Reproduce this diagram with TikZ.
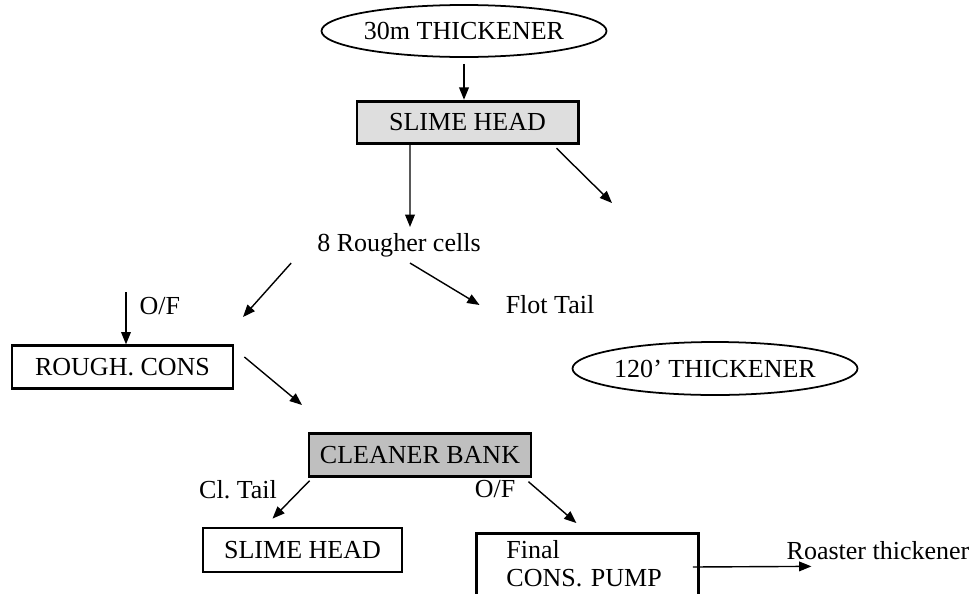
\documentclass[tikz,border=0pt]{standalone}
\usepackage{fontspec}
\setmainfont{Liberation Serif}
\usetikzlibrary{shapes.geometric,arrows.meta,positioning}
\frenchspacing

\begin{document}
\begin{tikzpicture}[
    font=\fontsize{14.8pt}{16pt}\selectfont,
    box/.style={rectangle, draw=black, line width=1.6pt, minimum width=4.42cm, minimum height=0.85cm, align=center},
    tank/.style={ellipse, draw=black, line width=1pt, minimum width=5.7cm, minimum height=1.04cm, inner sep=0pt},
    arrow/.style={-{Triangle[length=7pt,width=5.5pt]}, line width=0.8pt},
]
\useasboundingbox (0,0) rectangle (19.6,-11.86);

% 30m thickener to slime head
\node[tank] (thick30) at (9.28,-0.62) {30m THICKENER};
\node[box, fill=black!13, line width=1.7pt] (slime) at (9.35,-2.45) {SLIME HEAD};
\draw[arrow, shorten <=0.12cm] (thick30.south) -- (thick30.south |- slime.north);

% Rougher cells
\node (rough) at (7.98,-4.9) {8 Rougher cells};
\draw[arrow] ([xshift=-1.15cm]slime.south) -- ([xshift=0.22cm]rough.north);

% Slime head overflow
\coordinate (slimeout) at (12.24,-4.06);
\draw[arrow] ([shift={(-0.46,-0.06)}]slime.south east) -- (slimeout);

% Rougher products
\node (flot) at (11.0,-6.1) {Flot Tail};
\coordinate (roughout) at (4.86,-6.34);
\draw[arrow] ([xshift=-0.4cm]rough.south west) -- (roughout);
\draw[arrow] ([xshift=0.22cm]rough.south) -- ([xshift=-0.4cm]flot.west);

% Rougher concentrate
\node[box] (rcons) at (2.45,-7.34) {ROUGH. CONS};
\coordinate (offeed) at (2.52,-5.84);
\draw[arrow] (offeed) -- (offeed |- rcons.north) node[pos=0.27, right=4pt] {O/F};
\coordinate (rconsout) at (6.04,-8.1);
\draw[arrow] ([shift={(0.2,0.2)}]rcons.east) -- (rconsout);

% 120' thickener
\node[tank, minimum width=5.68cm, minimum height=1.06cm] (thick120) at (14.3,-7.37) {120’ THICKENER};

% Cleaner bank
\node[box, fill=black!25, minimum width=4.44cm] (cleaner) at (8.4,-9.1) {CLEANER BANK};
\node[box, minimum width=3.98cm, minimum height=0.88cm] (slimeb) at (6.05,-11.0) {SLIME HEAD};
\draw[arrow] ([shift={(0.04,-0.06)}]cleaner.south west) -- ([shift={(-0.6,0.16)}]slimeb.north);
\node (cltail) at (4.76,-9.8) {Cl. Tail};
\node (ofcl) at (9.9,-9.78) {O/F};

% Final concentrate
\node[box, anchor=north west, align=left, text width=3.24cm, inner xsep=0.6cm, inner ysep=0.14cm, text depth=1.5cm] (pump) at (9.5,-10.64) {Final\\CONS. PUMP};
\draw[arrow] ([shift={(-0.08,-0.08)}]cleaner.south east) -- ([shift={(-0.22,0.18)}]pump.north);
\node (roaster) at (17.56,-11.02) {Roaster thickener};
\draw[arrow] ([shift={(-0.14,-0.7)}]pump.north east) -- ([xshift=0.62cm]roaster.south west);
\end{tikzpicture}
\end{document}
